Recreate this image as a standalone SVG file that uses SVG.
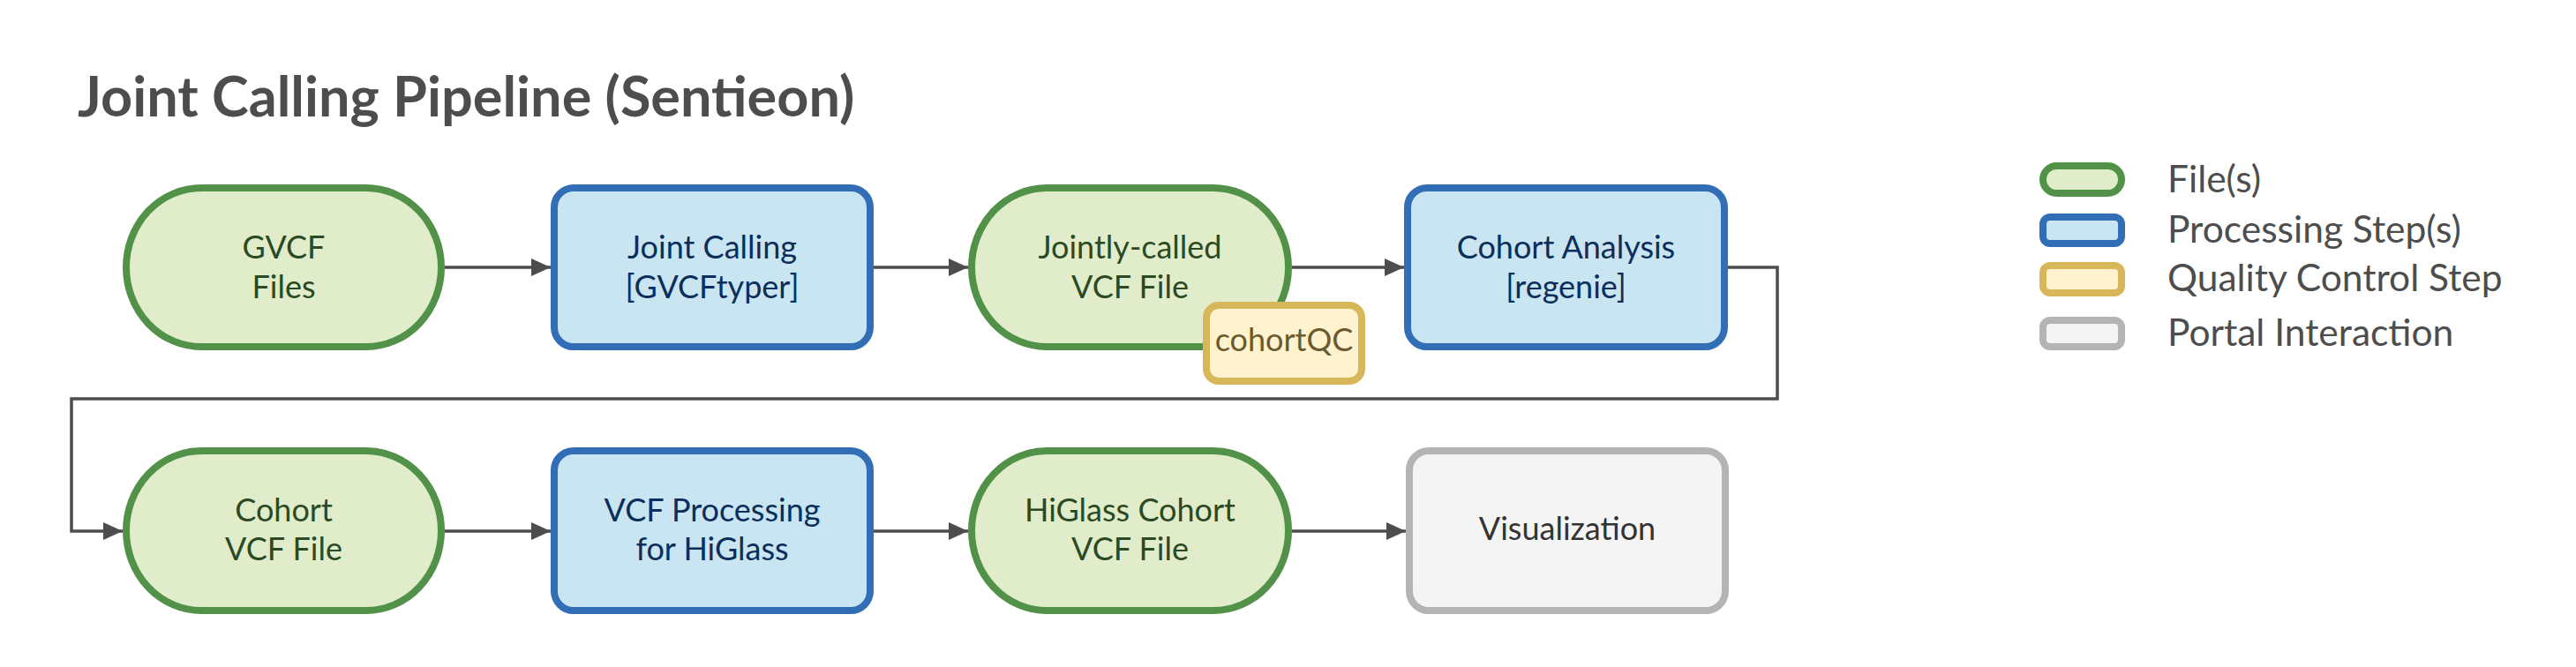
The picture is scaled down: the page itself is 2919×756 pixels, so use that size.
<svg xmlns="http://www.w3.org/2000/svg" width="2919" height="756" viewBox="0 0 2919 756">
<style>
text{font-family:Lato,"Liberation Sans",sans-serif}
.title{font-size:63px;font-weight:bold;fill:#4d4d4d}
.file{fill:#e1edca;stroke:#529148;stroke-width:8}
.proc{fill:#c8e5f1;stroke:#326eb6;stroke-width:8}
.qc{fill:#fff2cf;stroke:#d8b65a;stroke-width:8}
.portal{fill:#f4f4f4;stroke:#b4b4b4;stroke-width:8}
.tf{font-size:36px;fill:#2b4a24;text-anchor:middle}
.tp{font-size:36px;fill:#0b2e5c;text-anchor:middle}
.tq{font-size:36px;fill:#6a5a2c;text-anchor:middle}
.tg{font-size:36px;fill:#333333;text-anchor:middle}
.leg{font-size:42.5px;fill:#4d4d4d}
.conn{fill:none;stroke:#4d4d4d;stroke-width:3.5}
</style>
<defs>
<marker id="arr" markerUnits="userSpaceOnUse" markerWidth="24" markerHeight="20" refX="22" refY="10" orient="auto">
<path d="M0,0 L22,10 L0,20 Z" fill="#4d4d4d"/>
</marker>
</defs>
<rect width="2919" height="756" fill="#ffffff"/>
<text class="title" x="88" y="132">Joint Calling Pipeline (Sentieon)</text>

<g id="connectors">
<path class="conn" d="M504,303 H624" marker-end="url(#arr)"/>
<path class="conn" d="M990,303 H1097" marker-end="url(#arr)"/>
<path class="conn" d="M1464,303 H1591" marker-end="url(#arr)"/>
<path class="conn" d="M1958,303 H2014 V452 H81 V602 H139" marker-end="url(#arr)"/>
<path class="conn" d="M504,602 H624" marker-end="url(#arr)"/>
<path class="conn" d="M990,602 H1097" marker-end="url(#arr)"/>
<path class="conn" d="M1464,602 H1593" marker-end="url(#arr)"/>
</g>

<g id="gvcf-files">
<rect class="file" x="143" y="213" width="357" height="180" rx="85" ry="90"/>
<text class="tf" x="321.5" y="293">GVCF</text>
<text class="tf" x="321.5" y="338">Files</text>
</g>
<g id="joint-calling">
<rect class="proc" x="628" y="213" width="358" height="180" rx="22"/>
<text class="tp" x="807" y="293">Joint Calling</text>
<text class="tp" x="807" y="338">[GVCFtyper]</text>
</g>
<g id="jointly-called">
<rect class="file" x="1101" y="213" width="359" height="180" rx="85" ry="90"/>
<text class="tf" x="1280.5" y="293">Jointly-called</text>
<text class="tf" x="1280.5" y="338">VCF File</text>
</g>
<g id="cohortqc">
<rect class="qc" x="1367" y="346" width="176" height="86" rx="14"/>
<text class="tq" x="1455" y="398">cohortQC</text>
</g>
<g id="cohort-analysis">
<rect class="proc" x="1595" y="213" width="359" height="180" rx="22"/>
<text class="tp" x="1774.5" y="293">Cohort Analysis</text>
<text class="tp" x="1774.5" y="338">[regenie]</text>
</g>

<g id="cohort-vcf">
<rect class="file" x="143" y="511" width="357" height="181" rx="85" ry="90.5"/>
<text class="tf" x="321.5" y="591">Cohort</text>
<text class="tf" x="321.5" y="635">VCF File</text>
</g>
<g id="vcf-processing">
<rect class="proc" x="628" y="511" width="358" height="181" rx="22"/>
<text class="tp" x="807" y="591">VCF Processing</text>
<text class="tp" x="807" y="635">for HiGlass</text>
</g>
<g id="higlass-vcf">
<rect class="file" x="1101" y="511" width="359" height="181" rx="85" ry="90.5"/>
<text class="tf" x="1280.5" y="591">HiGlass Cohort</text>
<text class="tf" x="1280.5" y="635">VCF File</text>
</g>
<g id="visualization">
<rect class="portal" x="1597" y="511" width="358" height="181" rx="22"/>
<text class="tg" x="1776" y="612">Visualization</text>
</g>

<g id="legend">
<rect class="file" x="2315" y="188" width="89" height="31" rx="15.5"/>
<text class="leg" x="2456" y="218">File(s)</text>
<rect class="proc" x="2315" y="246" width="89" height="30" rx="8"/>
<text class="leg" x="2456" y="275">Processing Step(s)</text>
<rect class="qc" x="2315" y="301" width="89" height="31" rx="8"/>
<text class="leg" x="2456" y="330">Quality Control Step</text>
<rect class="portal" x="2315" y="363" width="89" height="30" rx="8"/>
<text class="leg" x="2456" y="392">Portal Interaction</text>
</g>
</svg>
